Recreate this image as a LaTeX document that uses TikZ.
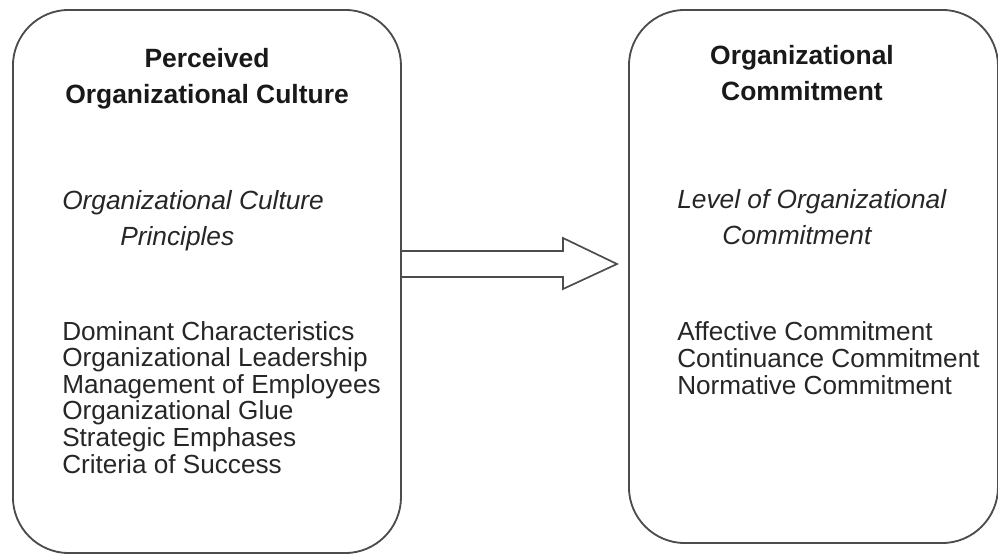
\documentclass[tikz,border=0pt]{standalone}
\usepackage{fontspec}
\setmainfont{Liberation Sans}
\usetikzlibrary{positioning}

\begin{document}
\begin{tikzpicture}[x=0.025cm, y=-0.025cm,
    panel/.style={draw=black!70, line width=1.3pt, rounded corners=1.4cm,
        inner sep=0pt, anchor=north west},
    heading/.style={font=\bfseries\fontsize{18.8}{25.6}\selectfont,
        align=center, anchor=base, inner sep=0pt, text=black!90},
    subheading/.style={font=\itshape\fontsize{18.7}{25.6}\selectfont,
        align=left, anchor=base west, inner sep=0pt, text=black!85},
    itemlist/.style={font=\fontsize{18.6}{18.9}\selectfont,
        align=left, anchor=base west, inner sep=0pt, text=black!85},
    blockarrow/.style={draw=black!70, line width=1.2pt, line join=miter}]

    % page frame
    \useasboundingbox (0,0) rectangle (998,554);

    % the two panels
    \node[panel, minimum width=9.7cm, minimum height=13.575cm] (culture) at (12,9) {};
    \node[panel, minimum width=9.225cm, minimum height=13.325cm] (commit) at (628,9) {};

    % left panel text (base = last line)
    \node[heading] (cultureTitle) at (207,103) {Perceived\\Organizational Culture};
    \node[subheading] (cultureSub) at (62,245)
        {Organizational Culture\\\hspace*{1.45cm}Principles};
    \node[itemlist] (cultureList) at (62,473)
        {Dominant Characteristics\\Organizational Leadership\\Management of Employees\\%
         Organizational Glue\\Strategic Emphases\\Criteria of Success};

    % right panel text
    \node[heading] (commitTitle) at (802,100) {Organizational\\Commitment};
    \node[subheading] (commitSub) at (677,244)
        {Level of Organizational\\\hspace*{1.125cm}Commitment};
    \node[itemlist] (commitList) at (677,394)
        {Affective Commitment\\Continuance Commitment\\Normative Commitment};

    % hollow arrow from culture to commitment
    \coordinate (tip) at (617,264);
    \draw[blockarrow] (culture.east |- 0,251) -- (563,251) -- (563,238) -- (tip)
        -- (563,289) -- (563,277) -- (culture.east |- 0,277);

\end{tikzpicture}
\end{document}
